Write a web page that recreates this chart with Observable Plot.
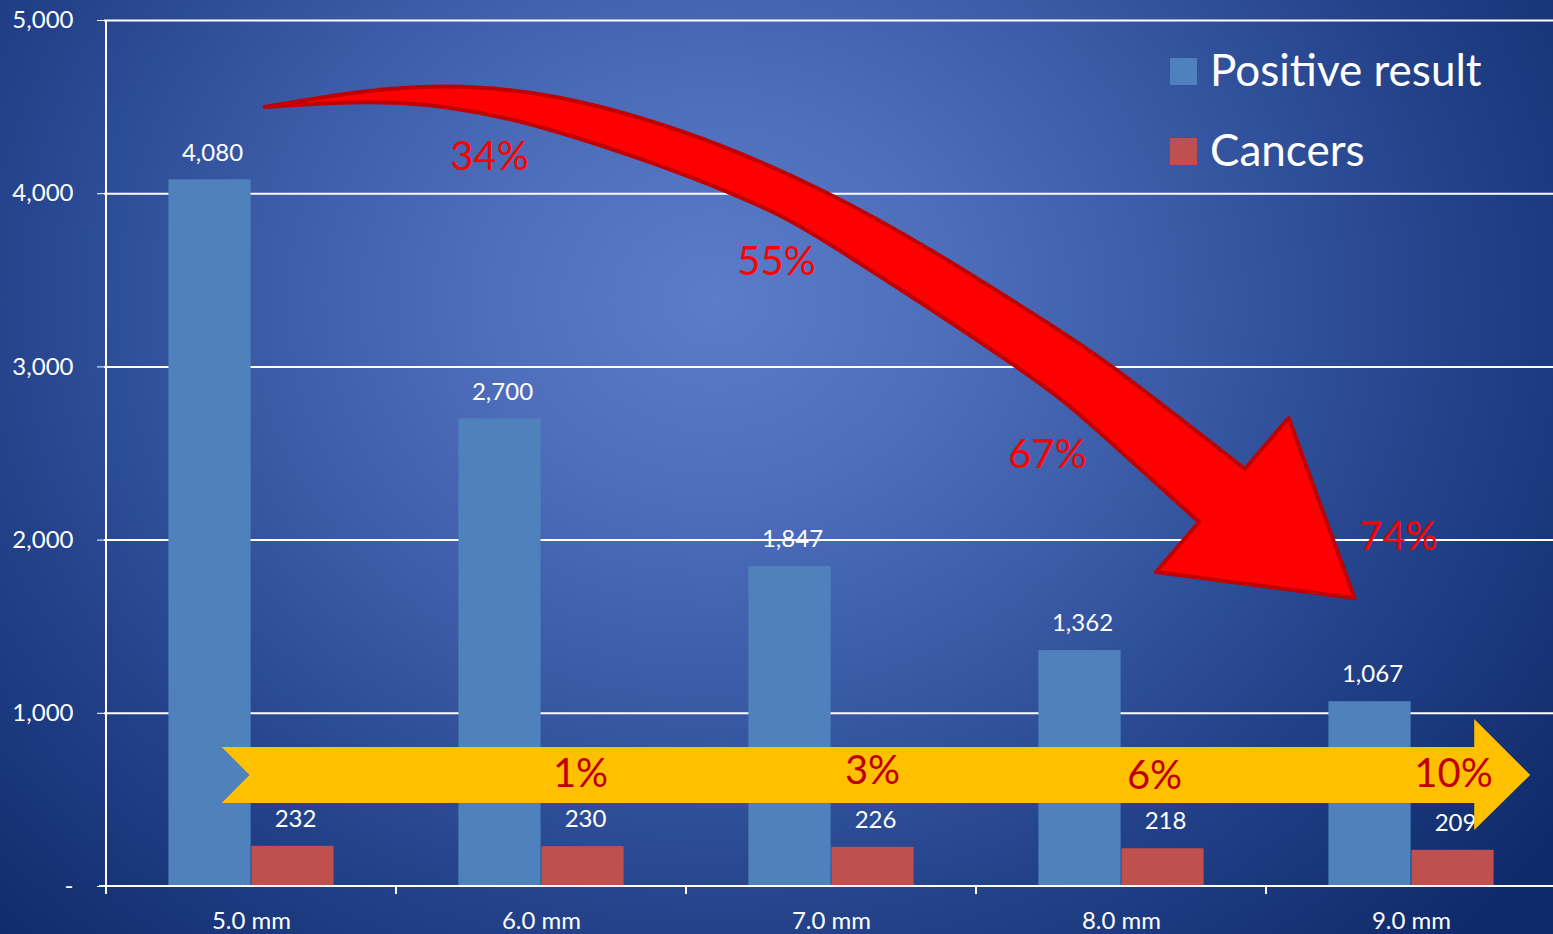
<!DOCTYPE html>
<html>
<head>
<meta charset="utf-8">
<script src="https://cdn.jsdelivr.net/npm/d3@7"></script>
<script src="https://cdn.jsdelivr.net/npm/@observablehq/plot@0.6"></script>
<style>
  html, body { margin: 0; padding: 0; overflow: hidden; }
  body {
    width: 1553px; height: 934px; position: relative;
    font-family: Lato, "Open Sans", sans-serif;
    background: radial-gradient(ellipse 1050px 900px at 715px 300px, #5B7CC8 0%, #4E6EBC 22%, #3A5AA6 45%, #23428A 70%, #0E2A6A 100%);
  }
  #chart { position: absolute; left: 0; top: 0; }
  .legend-item { position: absolute; left: 1170px; height: 27px; display: flex; align-items: center; color: white; font-size: 44px; white-space: nowrap; }
  .legend-item .sw { width: 27px; height: 27px; margin-right: 13px; flex: none; }
  .legend-item .lbl { position: relative; top: -3px; }
</style>
</head>
<body>
<div id="chart"></div>
<div id="legend"></div>
<script>
// ---------- data ----------
const categories = ["5.0 mm", "6.0 mm", "7.0 mm", "8.0 mm", "9.0 mm"];
const positiveResult = [4080, 2700, 1847, 1362, 1067];
const cancers = [232, 230, 226, 218, 209];
const seriesNames = ["Positive result", "Cancers"];
const seriesColors = ["#4F81BD", "#C0504D"];
const yTicks = [0, 1000, 2000, 3000, 4000, 5000];
// percentage annotations (reduction in positive results / in cancers found)
const positiveDropLabels = ["34%", "55%", "67%", "74%"];
const cancerDropLabels = ["1%", "3%", "6%", "10%"];
const dropCategories = ["6.0 mm", "7.0 mm", "8.0 mm", "9.0 mm"];

const rows = categories.map((c, i) => ({cat: c, pos: positiveResult[i], can: cancers[i]}));
const fmt = d3.format(",");

// annotation placement (value units on y, category + pixel offset on x)
const redNoteY = [4209, 3603, 2488, 2015], redNoteDx = [-52, -55, -74, -13];
const yellowNoteY = [647, 665, 635, 647], yellowNoteDx = [39, 41, 33, 42];
const redNotes = positiveDropLabels.map((t, i) => ({text: t, cat: dropCategories[i], y: redNoteY[i], dx: redNoteDx[i]}));
const yellowNotes = cancerDropLabels.map((t, i) => ({text: t, cat: dropCategories[i], y: yellowNoteY[i], dx: yellowNoteDx[i]}));

// arrow shapes in (category index t, value v)
const redUpper = [[0.047,4498],[0.587,4613],[1.206,4498],[1.986,4001],[2.650,3354],[2.970,2997],[3.427,2408]];
const redHead = [[3.578,2702],[3.805,1663],[3.121,1813],[3.269,2102]];
const redLower = [[3.269,2102],[2.925,2621],[2.640,2997],[2.065,3632],[1.653,4001],[1.034,4365],[0.518,4521],[0.047,4498]];
const yellowShape = [[-0.101,802.5],[4.218,802.5],[4.218,964],[4.411,641],[4.218,323],[4.218,479],[-0.101,479],[-0.005,641]];

function bandHelpers(scales) {
  const x = scales.x, y = scales.y;
  const bw = typeof x.bandwidth === "function" ? x.bandwidth() : (x(categories[1]) - x(categories[0]));
  const cx = t => x(categories[0]) + bw / 2 + t * bw;
  return {x, y, bw, cx};
}

function axisFrame(index, scales, values, dims) {
  const {x, y} = bandHelpers(scales);
  const g = d3.create("svg:g").attr("stroke", "white").attr("stroke-width", 2);
  const y0 = y(0), x0 = x(categories[0]);
  g.append("line").attr("x1", x0).attr("x2", x0).attr("y1", y(5000)).attr("y2", y0 + 8);
  g.append("line").attr("x1", x0 - 7).attr("x2", dims.width).attr("y1", y0).attr("y2", y0);
  categories.forEach(c => {
    const xs = x(c);
    g.append("line").attr("x1", xs).attr("x2", xs).attr("y1", y0).attr("y2", y0 + 8);
  });
  return g.node();
}

function yellowArrow(index, scales) {
  const {y, cx} = bandHelpers(scales);
  const pts = yellowShape.map(([t, v]) => [cx(t), y(v)]);
  return d3.create("svg:path")
    .attr("d", "M" + pts.map(p => p.join(",")).join("L") + "Z")
    .attr("fill", "#FFC000").node();
}

function redArrow(index, scales) {
  const {y, cx} = bandHelpers(scales);
  const P = a => a.map(([t, v]) => [cx(t), y(v)]);
  const curve = d3.line().curve(d3.curveNatural);
  const up = curve(P(redUpper));
  const head = P(redHead).map(p => "L" + p.join(",")).join("");
  const low = curve(P(redLower)).replace(/^M/, "L");
  return d3.create("svg:path")
    .attr("d", up + head + low + "Z")
    .attr("fill", "#FF0000")
    .attr("stroke", "#C00000")
    .attr("stroke-width", 4)
    .attr("stroke-linejoin", "round").node();
}

const chart = Plot.plot({
  width: 1553,
  height: 934,
  marginLeft: 104,
  marginRight: 0,
  marginTop: 20,
  marginBottom: 48,
  style: {background: "transparent", color: "white", fontFamily: "Lato, 'Open Sans', sans-serif", fontSize: "24px", overflow: "visible"},
  x: {domain: categories, range: [104, 1558], padding: 0, tickSize: 0, tickPadding: 25, label: null},
  y: {domain: [0, 5000], ticks: yTicks, tickFormat: d => d === 0 ? "-" : fmt(d), tickSize: 7, tickPadding: 24, label: null},
  marks: [
    Plot.ruleY(yTicks.slice(1), {stroke: "white", strokeWidth: 2}),
    Plot.barY(rows, {x: "cat", y: "pos", fill: seriesColors[0], insetLeft: 62.4, insetRight: 145.4}),
    Plot.barY(rows, {x: "cat", y: "can", fill: seriesColors[1], insetLeft: 145.4, insetRight: 62.4}),
    axisFrame,
    Plot.text(rows, {x: "cat", y: "pos", text: d => fmt(d.pos), dx: -39, dy: -27, fill: "white", fontSize: 24}),
    Plot.text(rows, {x: "cat", y: "can", text: d => fmt(d.can), dx: 44, dy: -27, fill: "white", fontSize: 24}),
    yellowArrow,
    ...yellowNotes.map(n => Plot.text([n], {x: "cat", y: "y", dx: n.dx, text: "text", fill: "#C00000", fontSize: 40})),
    redArrow,
    ...redNotes.map(n => Plot.text([n], {x: "cat", y: "y", dx: n.dx, text: "text", fill: "#FF0000", fontSize: 40}))
  ]
});
document.getElementById("chart").appendChild(chart);

// legend
const legend = document.getElementById("legend");
seriesNames.forEach((name, i) => {
  const item = document.createElement("div");
  item.className = "legend-item";
  item.style.top = (58 + i * 80) + "px";
  const sw = document.createElement("span");
  sw.className = "sw";
  sw.style.background = seriesColors[i];
  const lbl = document.createElement("span");
  lbl.className = "lbl";
  lbl.textContent = name;
  item.appendChild(sw);
  item.appendChild(lbl);
  legend.appendChild(item);
});
</script>
</body>
</html>
